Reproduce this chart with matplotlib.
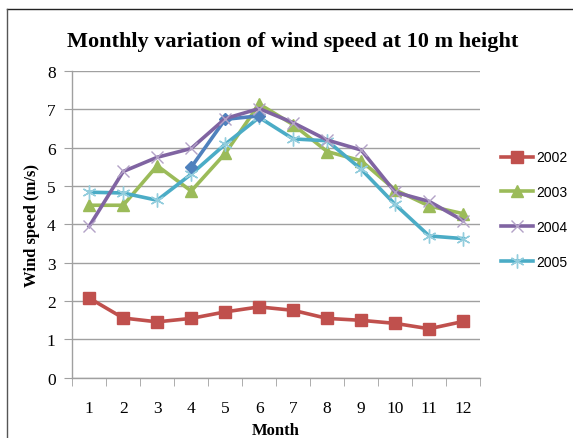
import matplotlib
matplotlib.use("Agg")
import matplotlib.pyplot as plt
from matplotlib.lines import Line2D

months = list(range(1, 13))
ws_2002 = [2.08, 1.56, 1.46, 1.55, 1.72, 1.85, 1.76, 1.55, 1.50, 1.42, 1.28, 1.47]
ws_2003 = [4.50, 4.50, 5.53, 4.87, 5.85, 7.14, 6.60, 5.90, 5.66, 4.90, 4.48, 4.28]
ws_2004 = [3.95, 5.38, 5.75, 5.98, 6.76, 7.02, 6.65, 6.20, 5.94, 4.84, 4.60, 4.10]
ws_2005 = [4.84, 4.82, 4.63, 5.31, 6.09, 6.79, 6.23, 6.18, 5.44, 4.52, 3.70, 3.63]
# partial series drawn in the chart but missing from its legend
extra_months = [4, 5, 6]
ws_extra = [5.49, 6.74, 6.83]

SERIF = "Liberation Serif"
GRID = "#A0A0A0"

fig = plt.figure(figsize=(5.73, 4.39), dpi=100)
ax = fig.add_axes([0.126, 0.137, 0.712, 0.699])

ax.plot(months, ws_2002, color="#C0504D", lw=2.6, marker="s", ms=8,
        mec="#C0504D", label="2002", zorder=3)
ax.plot(months, ws_2003, color="#9BBB59", lw=2.6, marker="^", ms=9,
        mec="#9BBB59", label="2003", zorder=3)
ax.plot(months, ws_2004, color="#8064A2", lw=2.6, marker="x", ms=9,
        mew=1.0, mec="#B3A2C7", label="2004", zorder=4)
ax.plot(months, ws_2005, color="#4BACC6", lw=2.6, marker=(6, 2, 0), ms=10,
        mew=1.0, mec="#93CDDD", label="2005", zorder=3)
ax.plot(extra_months, ws_extra, color="#4F81BD", lw=2.6, marker="D", ms=6,
        mec="#4F81BD", label="_nolegend_", zorder=3)

ax.set_xlim(0.5, 12.5)
ax.set_ylim(0, 8)
ax.set_yticks(range(0, 9))
ax.set_xticks(months)
ax.set_xticks([m + 0.5 for m in range(0, 13)], minor=True)
ax.yaxis.grid(True, color=GRID, lw=1.0)
ax.set_axisbelow(True)

for s in ("top", "right"):
    ax.spines[s].set_visible(False)
for s in ("left", "bottom"):
    ax.spines[s].set_color(GRID)
    ax.spines[s].set_linewidth(1.0)

ax.tick_params(axis="y", length=6, color=GRID, pad=6, labelsize=12.5)
ax.tick_params(axis="x", which="major", length=0, pad=16, labelsize=12.5)
ax.tick_params(axis="x", which="minor", length=6, color=GRID)
for lab in ax.get_xticklabels() + ax.get_yticklabels():
    lab.set_family(SERIF)

ax.set_xlabel("Month", family=SERIF, fontweight="bold", fontsize=12, labelpad=4)
ax.set_ylabel("Wind speed (m/s)", family=SERIF, fontweight="bold", fontsize=12,
              labelpad=5)
fig.text(0.51, 0.905, "Monthly variation of wind speed at 10 m height",
         family=SERIF, fontweight="bold", fontsize=16, ha="center", va="center")

fig.legend(loc="center left", bbox_to_anchor=(0.853, 0.52), frameon=False,
           handlelength=2.3, labelspacing=1.5, handletextpad=0.25,
           prop={"family": "Liberation Sans", "size": 10})

# chart frame (top and left edges visible)
fig.add_artist(Line2D([7 / 573, 1.0], [1 - 10 / 439] * 2, color="#222222", lw=1.0,
                      transform=fig.transFigure))
fig.add_artist(Line2D([7 / 573] * 2, [0.0, 1 - 10 / 439], color="#555555", lw=1.0,
                      transform=fig.transFigure))

fig.savefig("out.png", dpi=100)
